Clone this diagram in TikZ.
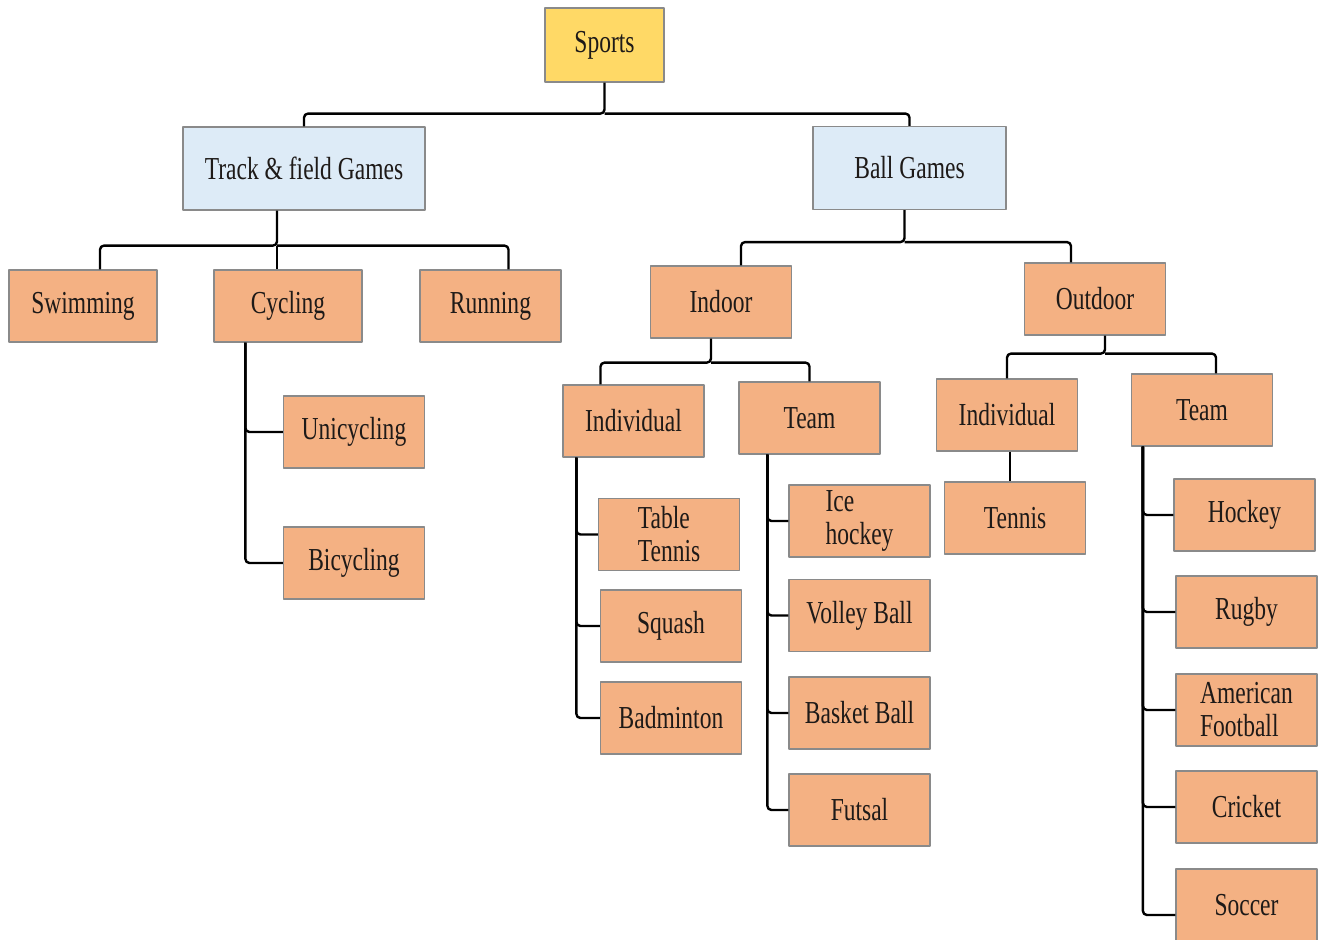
\documentclass[tikz,border=0pt]{standalone}
\usepackage{fontspec}
\setmainfont{Liberation Serif}[FakeStretch=0.735]
\definecolor{rootyellow}{HTML}{FFD966}
\definecolor{groupblue}{HTML}{DDEBF7}
\definecolor{leaforange}{HTML}{F4B183}
\definecolor{boxline}{HTML}{8A8A8A}
\definecolor{labeltext}{HTML}{1E1A18}
\tikzset{
  box/.style={draw=boxline,line width=0.6pt,inner sep=2pt,text=labeltext,
    minimum height=36pt,font=\fontsize{16}{16.5}\selectfont},
  root/.style={box,fill=rootyellow,minimum width=59.5pt,minimum height=37pt},
  group/.style={box,fill=groupblue,minimum height=41.5pt},
  leaf/.style={box,fill=leaforange,minimum width=70.5pt},
  conn/.style={black,line width=1.2pt,rounded corners=2pt},
}
\begin{document}
\begin{tikzpicture}[x=0.5pt,y=-0.5pt,line join=round]
 \path [use as bounding box,fill=white] (0,0) rectangle (1319,940);

 \node (sports) at (604.5,45) [root] {Sports};
 \node (track) at (304,168.5) [group,minimum width=121pt] {Track \& field Games};
 \node (ball) at (909.5,168) [group,minimum width=96.5pt] {Ball Games};

 \node (swim) at (83,306) [leaf,minimum width=74pt] {Swimming};
 \node (cyc) at (288,306) [leaf,minimum width=74pt] {Cycling};
 \node (run) at (490.5,306) [leaf] {Running};
 \node (uni) at (354,432) [leaf] {Unicycling};
 \node (bic) at (354,563) [leaf] {Bicycling};

 \node (indoor) at (721,302) [leaf] {Indoor};
 \node (outdoor) at (1095,299) [leaf] {Outdoor};
 \node (indone) at (633.5,421) [leaf] {Individual};
 \node (teamone) at (809.5,418) [leaf] {Team};
 \node (indtwo) at (1007,415) [leaf] {Individual};
 \node (teamtwo) at (1202,410) [leaf] {Team};

 \node (tt) at (669,534.5) [leaf,align=left] {Table\\Tennis};
 \node (sq) at (671,626) [leaf] {Squash};
 \node (bad) at (671,718) [leaf] {Badminton};

 \node (ice) at (859.5,521) [leaf,align=left] {Ice\\hockey};
 \node (vol) at (859.5,615.5) [leaf] {Volley Ball};
 \node (bas) at (859.5,713) [leaf] {Basket Ball};
 \node (fut) at (859.5,810) [leaf] {Futsal};

 \node (tennis) at (1015,518) [leaf] {Tennis};

 \node (hockey) at (1244.5,515) [leaf] {Hockey};
 \node (rugby) at (1246.5,612) [leaf] {Rugby};
 \node (amfoot) at (1246.5,710) [leaf,align=left] {American\\Football};
 \node (cricket) at (1246.5,807) [leaf] {Cricket};
 \node (soccer) at (1246.5,905) [leaf] {Soccer};

  \draw [conn] (sports.south) -- ++(0,31) coordinate (sportsbar) -| (track.north);
  \draw [conn] (sportsbar) -| (ball.north);

  \draw [conn] ([xshift=-13.5pt]track.south) -- ++(0,35) coordinate (trackbar) -| ([xshift=8.5pt]swim.north);
  \draw [conn] (trackbar) -- (trackbar |- cyc.north);
  \draw [conn] (trackbar) -| ([xshift=9pt]run.north);
  \draw [conn] ([xshift=16pt]cyc.south west) |- (uni.west);
  \draw [conn] ([xshift=16pt]cyc.south west) |- (bic.west);

  \draw [conn] ([xshift=-2.5pt]ball.south) -- ++(0,32) coordinate (ballbar) -| ([xshift=10pt]indoor.north);
  \draw [conn] (ballbar) -| ([xshift=-12pt]outdoor.north);

  \draw [conn] ([xshift=-5pt]indoor.south) -- ++(0,24) coordinate (indoorbar) -| ([xshift=-16.5pt]indone.north);
  \draw [conn] (indoorbar) -| (teamone.north);
  \draw [conn] ([xshift=5pt]outdoor.south) -- ++(0,18) coordinate (outdoorbar) -| (indtwo.north);
  \draw [conn] (outdoorbar) -| ([xshift=7pt]teamtwo.north);

  \draw [conn] ([xshift=7pt]indone.south west) |- (tt.west);
  \draw [conn] ([xshift=7pt]indone.south west) |- (sq.west);
  \draw [conn] ([xshift=7pt]indone.south west) |- (bad.west);

  \draw [conn] ([xshift=14.5pt]teamone.south west) |- (ice.west);
  \draw [conn] ([xshift=14.5pt]teamone.south west) |- (vol.west);
  \draw [conn] ([xshift=14.5pt]teamone.south west) |- (bas.west);
  \draw [conn] ([xshift=14.5pt]teamone.south west) |- (fut.west);

  \draw [conn] ([xshift=1.5pt]indtwo.south) -- ([xshift=1.5pt]indtwo.south |- tennis.north);

  \draw [conn] ([xshift=6pt]teamtwo.south west) |- (hockey.west);
  \draw [conn] ([xshift=6pt]teamtwo.south west) |- (rugby.west);
  \draw [conn] ([xshift=6pt]teamtwo.south west) |- (amfoot.west);
  \draw [conn] ([xshift=6pt]teamtwo.south west) |- (cricket.west);
  \draw [conn] ([xshift=6pt]teamtwo.south west) |- ([yshift=-5pt]soccer.west);
\end{tikzpicture}
\end{document}
